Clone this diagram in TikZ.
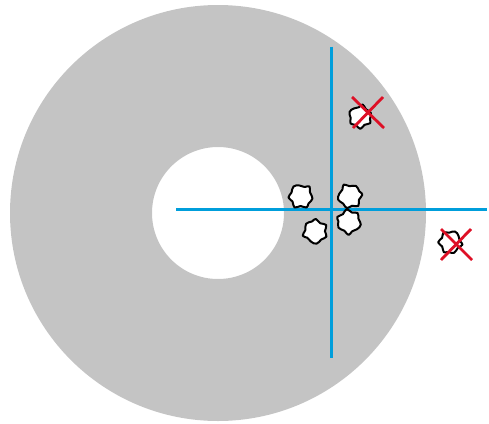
\documentclass[tikz,border=0pt]{standalone}
\definecolor{ringgray}{RGB}{196,196,196}
\definecolor{axisblue}{RGB}{0,158,219}
\definecolor{crossred}{RGB}{222,16,38}
\tikzset{
  blobline/.style={draw=black,fill=white,line width=2pt,line join=round},
  axis/.style={draw=axisblue,line width=2.8pt},
  cross/.style={draw=crossred,line width=2.8pt},
  pics/blob/.style={code={
    \path[blobline] plot[smooth cycle,tension=0.8] coordinates
      {(-1,-11)(4,-9.5)(9,-10)(9.5,-4)(12,2)(8,7)(6,11)(0,9.5)(-6,11)(-8,5)(-12,1)(-9,-4)(-7,-10)};
  }}
}
\begin{document}
\begin{tikzpicture}[x=1pt,y=-1pt]
\useasboundingbox (0,0) rectangle (489,423);
% annulus
\fill[ringgray,even odd rule] (218,213) circle[radius=208pt] (218,213) circle[radius=66pt];
% axes
\coordinate (hl) at (176,209.5);
\coordinate (hr) at (487,209.5);
\coordinate (vt) at (331.5,46.5);
\coordinate (vb) at (331.5,357.5);
\draw[axis] (hl) -- (hr);
\draw[axis] (vt) -- (vb);
% blobs
\pic[rotate=0] at (300.5,196.5) {blob};
\pic[rotate=70] at (350,196.5) {blob};
\pic[rotate=150] at (315.5,231.5) {blob};
\pic[rotate=220] at (349,221.5) {blob};
\pic[rotate=30,scale=0.95] at (360,117) {blob};
\pic[rotate=300,scale=0.95] at (450,242) {blob};
% red crosses
\coordinate (a1) at (352,97); \coordinate (a2) at (384,128);
\coordinate (a3) at (383,97); \coordinate (a4) at (353,128);
\draw[cross] (a1) -- (a2); \draw[cross] (a3) -- (a4);
\coordinate (b1) at (441,229); \coordinate (b2) at (472,260);
\coordinate (b3) at (471,229); \coordinate (b4) at (441,260);
\draw[cross] (b1) -- (b2); \draw[cross] (b3) -- (b4);
\end{tikzpicture}
\end{document}
